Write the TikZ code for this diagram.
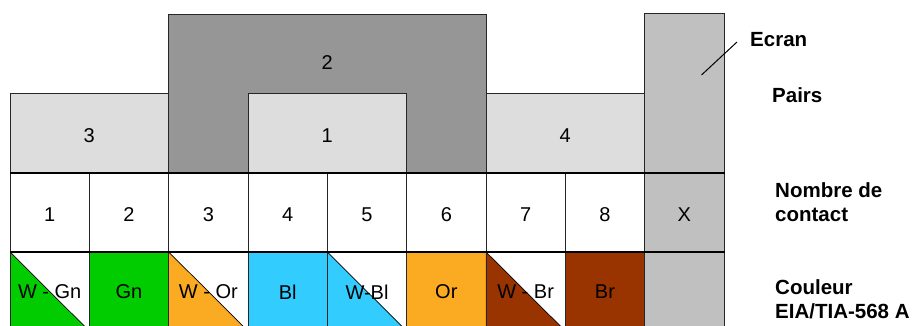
\documentclass[tikz,border=0pt]{standalone}
\usepackage{fontspec}
\setmainfont{Liberation Sans}
\definecolor{pairlight}{HTML}{DDDDDD}
\definecolor{pairdark}{HTML}{969696}
\definecolor{shield}{HTML}{C0C0C0}
\definecolor{wgreen}{HTML}{00CC00}
\definecolor{worange}{HTML}{FBAB22}
\definecolor{wblue}{HTML}{33CCFF}
\definecolor{wbrown}{HTML}{993300}
\begin{document}
\begin{tikzpicture}[x=1pt,y=-1pt,
  cellline/.style={draw=black!85,line width=0.8pt},
  thickline/.style={draw=black,line width=2pt},
  txt/.style={font=\fontsize{20}{24}\selectfont,inner sep=0pt},
  side/.style={font=\fontsize{20.5}{24}\selectfont\bfseries,anchor=west,align=left,inner sep=0pt}]
\useasboundingbox (0,0) rectangle (915,326);
\def\cw{79.33}
\begin{scope}
\clip (0,0) rectangle (915,326);
% shield column
\path[cellline,fill=shield] (644.7,13.5) rectangle (724,331);
% pair 2 (dark)
\path[cellline,fill=pairdark] (168.7,14) rectangle (486,173);
% light pairs
\path[cellline,fill=pairlight] (10,93) rectangle (168.7,173);
\path[cellline,fill=pairlight] (248,93) rectangle (406.7,173);
\path[cellline,fill=pairlight] (486,93) rectangle (644.7,173);
% contact row
\foreach \i in {0,...,7}{
  \path[cellline,fill=white] ({10+\i*\cw},173) rectangle ({10+(\i+1)*\cw},252);
}
% colour row
\foreach \i/\w/\c in {0/1/wgreen,1/0/wgreen,2/1/worange,3/0/wblue,4/1/wblue,5/0/worange,6/1/wbrown,7/0/wbrown}{
  \ifnum\w=1
    \fill[white] ({10+\i*\cw},252) rectangle ({10+(\i+1)*\cw},331);
    \fill[\c] ({10+\i*\cw},252) -- ({10+\i*\cw},331) -- ({10+(\i+1)*\cw},331) -- cycle;
    \draw[black,line width=0.7pt] ({10+\i*\cw},252) -- ({10+(\i+1)*\cw},331);
    \path[cellline] ({10+\i*\cw},252) rectangle ({10+(\i+1)*\cw},331);
  \else
    \path[cellline,fill=\c] ({10+\i*\cw},252) rectangle ({10+(\i+1)*\cw},331);
  \fi
}
\path[cellline] (644.7,252) -- (644.7,331);
% thick row lines
\path[thickline] (10,173) -- (725,173);
\path[thickline] (10,252) -- (725,252);
\end{scope}
% pair labels
\node[txt] (pair2) at (327.3,63) {2};
\node[txt] (pair3) at (89.3,136) {3};
\node[txt] (pair1) at (327.3,136) {1};
\node[txt] (pair4) at (565.3,136) {4};
% contact labels
\foreach \i/\t in {0/1,1/2,2/3,3/4,4/5,5/6,6/7,7/8,8/X}{
  \node[txt] (contact\i) at ({10+(\i+0.5)*\cw},214.5) {\t};
}
% colour labels
\foreach \i/\t in {0/W - Gn,1/Gn,2/W - Or,3/Bl,4/W-Bl,5/Or,6/W - Br,7/Br}{
  \node[txt] (colour\i) at ({10+(\i+0.5)*\cw},292) {\t};
}
% side labels
\node[side] (ecranlbl) at (750,40) {Ecran};
\node[side] (pairslbl) at (772,95) {Pairs};
\node[side] (nombrelbl) at (775,202) {Nombre de\\contact};
\node[side] (couleurlbl) at (775,299) {Couleur\\EIA/TIA-568 A};
\coordinate (ecranA) at (701.5,75);
\coordinate (ecranB) at (737,42);
\draw[black,line width=1pt] (ecranA) -- (ecranB);
\end{tikzpicture}
\end{document}
